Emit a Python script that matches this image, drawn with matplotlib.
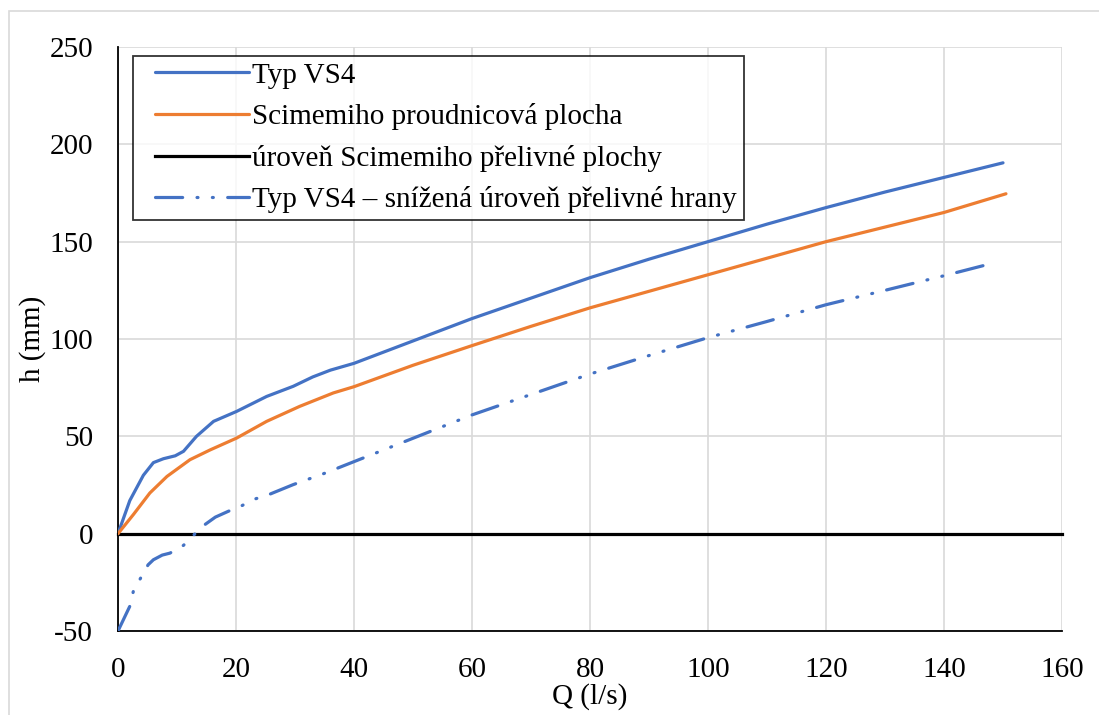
import matplotlib.pyplot as plt
import numpy as np
from matplotlib.patches import Rectangle

plt.rcParams['font.family'] = ['Liberation Serif', 'DejaVu Serif']
plt.rcParams['axes.unicode_minus'] = False

# Typ VS4
q_vs4 = [0, 2, 4.3, 6, 7.7, 9.7, 11.1, 13.3, 16.2, 20.1, 25.2, 29.7, 33, 36, 40,
         50, 60, 70, 80, 90, 100, 110, 120, 130, 140, 150]
h_vs4 = [0, 17, 30, 36.5, 38.5, 40, 42.3, 50, 57.7, 62.8, 70.5, 75.7, 80.5, 84, 87.5,
         99, 110.5, 121, 131.5, 141, 150, 159, 167.5, 175.5, 183, 190.5]

# Scimemiho proudnicova plocha
q_sci = [0, 2.6, 5.4, 8.3, 12.2, 15.6, 20.1, 25.2, 30.8, 36.5, 40, 50, 60, 70, 80,
         90, 100, 110, 120, 130, 140, 150.5]
h_sci = [0, 9.8, 20.9, 29.4, 38, 43, 49.1, 57.7, 65.4, 72.3, 75.5, 86.5, 96.6, 106.5, 116,
         124.5, 133, 141.5, 150, 157.5, 165, 174.6]

# uroven Scimemiho prelivne plochy
q_lvl = [0, 160]
h_lvl = [0, 0]

# Typ VS4 - snizena uroven prelivne hrany
q_low = [0, 2, 2.6, 3.8, 5.1, 6, 7.5, 8.8, 11.1, 12.9, 14.7, 16.5, 18.7, 21, 23.2, 25.5,
         29.7, 35, 40, 50, 60, 70, 80, 90, 100, 110, 120, 130, 140, 147.7]
h_low = [-50, -37.3, -29.6, -23, -16, -13.4, -11, -10, -6, -0.5, 4.6, 8.5, 11.5, 14.4, 17.8, 20,
         25.2, 31, 37, 49, 61, 71.5, 82, 91.5, 100.7, 109, 117.6, 125, 132.5, 138.5]

fig = plt.figure(figsize=(10.99, 7.15), dpi=100)
W, H = 1099, 715
ax = fig.add_axes([118 / W, (H - 631) / H, (1062 - 118) / W, (631 - 47) / H])

# svetle sede oramovani grafu
fig.patches.append(Rectangle((9 / W, -0.05), 1.1, (H - 11) / H + 0.05,
                             transform=fig.transFigure, fill=False,
                             edgecolor='#d9d9d9', lw=1.2, clip_on=False))

ax.plot(q_vs4, h_vs4, color='#4472C4', lw=2.3, label='Typ VS4',
        solid_capstyle='round', zorder=4)
ax.plot(q_sci, h_sci, color='#ED7D31', lw=2.3, label='Scimemiho proudnicová plocha',
        solid_capstyle='round', zorder=4)
ax.plot(q_lvl, h_lvl, color='black', lw=2.3, label='úroveň Scimemiho přelivné plochy',
        zorder=3, clip_on=False)
ax.plot(q_low, h_low, color='#4472C4', lw=2.3,
        linestyle=(0, (8.5, 4.5, 0.3, 4.5, 0.3, 4.5)), dash_capstyle='round',
        label='Typ VS4 – snížená úroveň přelivné hrany', zorder=4)

ax.set_xlim(0, 160)
ax.set_ylim(-50, 250)
ax.set_xticks(range(0, 161, 20))
ax.set_yticks(range(-50, 251, 50))
ax.grid(True, color='#d9d9d9', lw=1.2)
ax.set_axisbelow(True)
ax.tick_params(length=0, labelsize=21, pad=18)
ax.tick_params(axis='x', pad=19)

for s in ['top', 'right']:
    ax.spines[s].set_visible(False)
for s in ['left', 'bottom']:
    ax.spines[s].set_color('black')
    ax.spines[s].set_linewidth(1.3)

ax.set_xlabel('Q (l/s)', fontsize=21, labelpad=0)
ax.set_ylabel('h (mm)', fontsize=21, labelpad=2)

leg = ax.legend(loc='upper left', bbox_to_anchor=(0.016, 0.985), borderaxespad=0,
                fontsize=21, frameon=True, fancybox=False, handlelength=3.75,
                handletextpad=0.12, labelspacing=0.5, borderpad=0.22)
leg.get_frame().set_edgecolor('black')
leg.get_frame().set_linewidth(1.3)
# cary v legende zacinaji kousek od ramecku
for line in leg.get_lines():
    xd = np.asarray(line.get_xdata(), dtype=float).copy()
    xd[0] += 11
    line.set_xdata(xd)

fig.savefig('out.png', dpi=100)
